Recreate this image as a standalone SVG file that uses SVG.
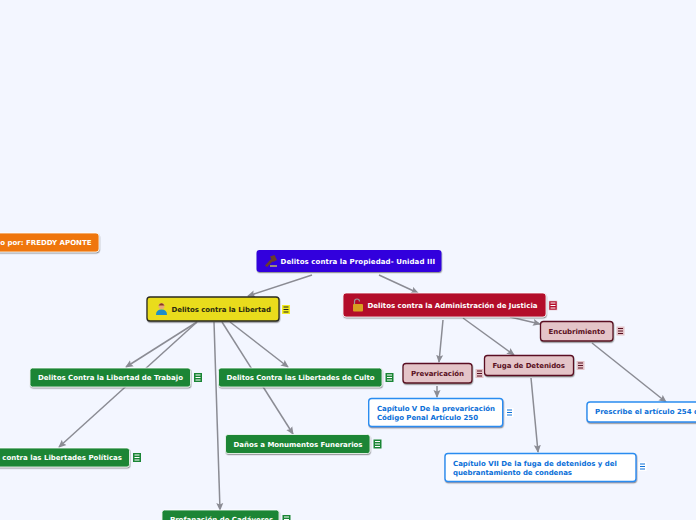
<svg xmlns="http://www.w3.org/2000/svg" width="696" height="520" viewBox="0 0 696 520">
<style>
text{font-family:"DejaVu Sans",Verdana,sans-serif;font-weight:700;font-size:7px}
.w{fill:#fff}.b{fill:#0b6fd8}.m{fill:#5a1022}.k{fill:#2a2a10}
.l{stroke:#8b8c94;stroke-width:1.5;fill:none;marker-end:url(#a)}
.s{filter:url(#sh)}
.g{fill:#1a8535;stroke:#fff;stroke-width:.8}
.p{fill:#e4c4c8;stroke:#5a1022;stroke-width:1.3}
.c{fill:#fff;stroke:#2a8cf0;stroke-width:1.4}
</style>
<defs>
<marker id="a" viewBox="0 0 8 8" refX="7" refY="4" markerWidth="8" markerHeight="8" markerUnits="userSpaceOnUse" orient="auto"><path d="M0 0.500L8 4L0 7.500L1.500 4Z" fill="#8b8c94"/></marker>
<filter id="sh" x="-10%" y="-20%" width="120%" height="150%"><feDropShadow dx="0.5" dy="1.2" stdDeviation="0.7" flood-color="#555" flood-opacity="0.6"/></filter>
<g id="nw"><rect width="8" height="9" fill="#1a8535"/><path d="M1.500 2H6.500M1.500 4.500H6.500M1.500 7H6.500" stroke="#fff" stroke-width="1"/></g>
<g id="np"><rect width="8" height="9" fill="#e4c4c8"/><path d="M1.500 2H6.500M1.500 4.500H6.500M1.500 7H6.500" stroke="#5a1022" stroke-width="1"/></g>
<g id="nb"><rect width="8" height="9" fill="#fff"/><path d="M1.500 2H6.500M1.500 4.500H6.500M1.500 7H6.500" stroke="#0b6fd8" stroke-width="1"/></g>
</defs>
<rect width="696" height="520" fill="#f3f6ff"/>
<g id="connectors">
<path class="l" d="M312 275L248 296"/>
<path class="l" d="M379 275L418 293"/>
<path class="l" d="M197 322L126 367"/>
<path class="l" d="M197 322L59 447"/>
<path class="l" d="M230 322L288 367"/>
<path class="l" d="M222 322L293 434"/>
<path class="l" d="M214 322L220 510"/>
<path class="l" d="M443 320L439 362"/>
<path class="l" d="M463 318L514 355"/>
<path class="l" d="M510 317L540 324"/>
<path class="l" d="M437 386L437 397"/>
<path class="l" d="M531 378L538 452"/>
<path class="l" d="M592 343L666 402"/>
</g>
<g id="n-orange"><rect class="s" x="-60" y="233" width="159" height="19" rx="3" fill="#ef7607" stroke="#fff" stroke-width=".8"/><text class="w" x="91.500" y="245" text-anchor="end">Hecho por: FREDDY APONTE</text></g>
<g id="n-root"><rect class="s" x="256.500" y="250" width="185" height="22" rx="3" fill="#3300dd"/>
<path d="M265 265.500L271 259L273 261L267 267ZM270 256.500L274.500 255L277 260L273 262Z" fill="#6b3d2a"/><rect x="270" y="265" width="7" height="2" fill="#9a8a80"/>
<text class="w" x="280.500" y="264" textLength="154.500">Delitos contra la Propiedad- Unidad III</text></g>
<g id="n-libertad"><rect class="s" x="147" y="297" width="132" height="24" rx="3" fill="#e9dc1b" stroke="#2a2a20" stroke-width="1.3"/>
<circle cx="161.500" cy="306" r="3" fill="#e8a878"/><path d="M158.500 305.500Q161.500 301 164.500 305.500Z" fill="#8a3a20"/><path d="M156 315Q156 309.500 161.500 309.500Q167 309.500 167 315Z" fill="#1c8ec8"/>
<text class="k" x="171.500" y="312" textLength="99.500">Delitos contra la Libertad</text>
<rect x="282" y="305" width="8" height="9" fill="#f4ec20"/><path d="M283.500 307H288.500M283.500 309.500H288.500M283.500 312H288.500" stroke="#222" stroke-width="1"/></g>
<g id="n-admin"><rect class="s" x="343" y="293" width="203" height="24" rx="3" fill="#b30b2a" stroke="#fff" stroke-width=".8"/>
<path d="M354.500 304.500V301.500Q354.500 299 357 299Q359.500 299 359.500 301.500" fill="none" stroke="#999" stroke-width="1.200"/><rect x="353" y="304" width="10" height="7.500" rx="1" fill="#d8a020"/>
<text class="w" x="367.500" y="308" textLength="170">Delitos contra la Administración de Justicia</text>
<rect x="549" y="301" width="8" height="9" fill="#b30b2a" stroke="#e4c4c8" stroke-width=".6"/><path d="M550.500 303H555.500M550.500 305.500H555.500M550.500 308H555.500" stroke="#fff" stroke-width="1"/></g>
<g id="n-encubrimiento"><rect class="s p" x="540.500" y="321.500" width="72.500" height="19.500" rx="3"/><text class="m" x="548.500" y="334" textLength="56.500">Encubrimiento</text><use href="#np" x="616.500" y="326.500"/></g>
<g id="n-fuga"><rect class="s p" x="484.500" y="355.500" width="89" height="20" rx="3"/><text class="m" x="492.500" y="368" textLength="72.500">Fuga de Detenidos</text><use href="#np" x="576.500" y="361"/></g>
<g id="n-prevaricacion"><rect class="s p" x="403" y="363.500" width="69" height="19.500" rx="3"/><text class="m" x="411" y="376" textLength="53">Prevaricación</text><use href="#np" x="475.500" y="369"/></g>
<g id="n-capv"><rect class="s c" x="368.700" y="398.500" width="134" height="28" rx="3"/><text class="b" x="377" y="411" textLength="118">Capítulo V De la prevaricación</text><text class="b" x="377" y="420" textLength="101">Código Penal Artículo 250</text><use href="#nb" x="505.500" y="408"/></g>
<g id="n-capvii"><rect class="s c" x="445" y="453.500" width="191" height="28" rx="3"/><text class="b" x="453" y="466" textLength="164">Capítulo VII De la fuga de detenidos y del</text><text class="b" x="453" y="474.500" textLength="119">quebrantamiento de condenas</text><use href="#nb" x="638.500" y="462"/></g>
<g id="n-prescribe"><rect class="s c" x="587" y="402" width="125" height="20" rx="3"/><text class="b" x="595" y="414">Prescribe el artículo 254 d</text></g>
<g id="n-trabajo"><rect class="s g" x="30" y="368" width="160.500" height="19" rx="2.500"/><text class="w" x="38" y="380" textLength="145">Delitos Contra la Libertad de Trabajo</text><use href="#nw" x="194" y="373"/></g>
<g id="n-culto"><rect class="s g" x="218.500" y="368" width="163.500" height="19" rx="2.500"/><text class="w" x="226.500" y="380" textLength="148">Delitos Contra las Libertades de Culto</text><use href="#nw" x="385.500" y="373"/></g>
<g id="n-politicas"><rect class="s g" x="-40" y="448" width="169.500" height="19" rx="2.500"/><text class="w" x="122" y="460" text-anchor="end">Delitos contra las Libertades Políticas</text><use href="#nw" x="133" y="453"/></g>
<g id="n-danos"><rect class="s g" x="225.500" y="434.500" width="144.500" height="19" rx="2.500"/><text class="w" x="233.500" y="447" textLength="129">Daños a Monumentos Funerarios</text><use href="#nw" x="373.500" y="439.500"/></g>
<g id="n-cadaveres"><rect class="s g" x="162" y="510" width="117" height="19" rx="2.500"/><text class="w" x="170" y="522">Profanación de Cadáveres</text><use href="#nw" x="282.500" y="515"/></g>
</svg>
